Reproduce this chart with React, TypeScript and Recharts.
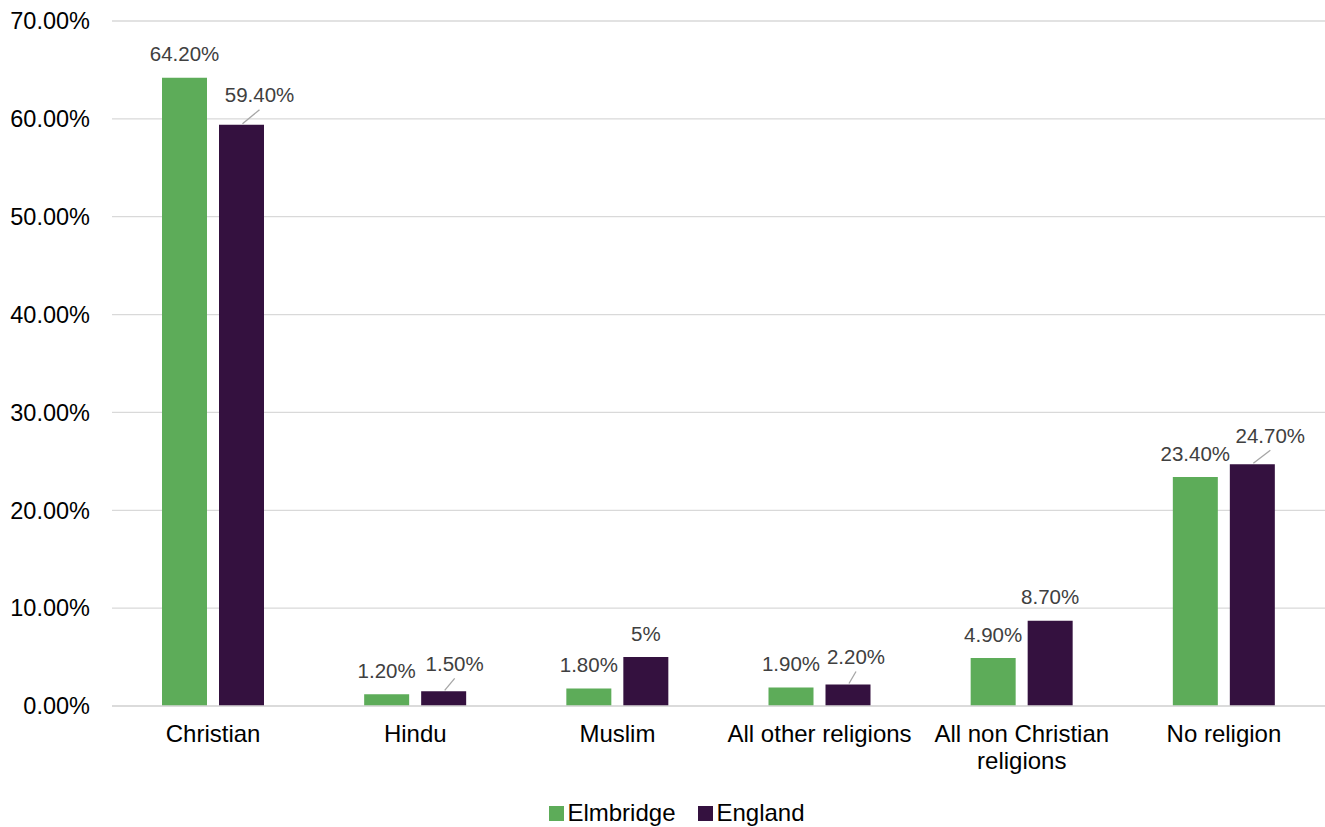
import { BarChart, Bar, XAxis, YAxis, CartesianGrid, Legend, LabelList } from 'recharts';

const categories = ['Christian', 'Hindu', 'Muslim', 'All other religions', 'All non Christian religions', 'No religion'];
const elmbridge = [64.2, 1.2, 1.8, 1.9, 4.9, 23.4];
const england = [59.4, 1.5, 5, 2.2, 8.7, 24.7];
const elmbridgeLabels = ['64.20%', '1.20%', '1.80%', '1.90%', '4.90%', '23.40%'];
const englandLabels = ['59.40%', '1.50%', '5%', '2.20%', '8.70%', '24.70%'];
const yTicks = [0, 10, 20, 30, 40, 50, 60, 70];

const data = categories.map((category, i) => ({
  category,
  elmbridge: elmbridge[i],
  england: england[i],
}));

const FONT = '"Liberation Sans", Arial, sans-serif';
const GREEN = '#5dac59';
const PURPLE = '#34113f';

// label nudges (dx, dy from bar top centre) -- excel moved a few labels and drew leader lines
const englandNudge = [[18, -30], [11, -28], [0, -24], [8, -28], [0, -24], [18, -29]];

const makeLabel = (labels: string[], nudges?: number[][]) => (props: any) => {
  const { x, y, width, index } = props;
  const cx = Number(x) + Number(width) / 2;
  const top = Number(y);
  const [dx, dy] = nudges ? nudges[index] : [0, -24];
  const leader = dx !== 0;
  return (
    <g>
      {leader && (
        <line x1={cx + 1} y1={top - 1} x2={cx + dx} y2={top + dy + 15} stroke="#a6a6a6" strokeWidth={1.3} />
      )}
      <text
        x={cx + dx}
        y={top + dy}
        textAnchor="middle"
        dominantBaseline="central"
        style={{ fontSize: 20.5, fill: '#404040', fontFamily: FONT }}
      >
        {labels[index]}
      </text>
    </g>
  );
};

// simple word wrap, long category names go on two lines
function wrap(label: string, maxChars = 19) {
  const lines: string[] = [];
  let cur = '';
  for (const w of label.split(' ')) {
    const next = cur ? cur + ' ' + w : w;
    if (next.length > maxChars && cur) {
      lines.push(cur);
      cur = w;
    } else {
      cur = next;
    }
  }
  if (cur) lines.push(cur);
  return lines;
}

function CategoryTick({ x, y, payload }: any) {
  const lines = wrap(String(payload.value));
  return (
    <text x={x} y={y} textAnchor="middle" style={{ fontSize: 24, fill: '#000', fontFamily: FONT }}>
      {lines.map((l, i) => (
        <tspan key={i} x={x} dy={i === 0 ? 17 : 27}>
          {l}
        </tspan>
      ))}
    </text>
  );
}

const series = [
  { name: 'Elmbridge', color: GREEN },
  { name: 'England', color: PURPLE },
];

const renderLegend = () => (
  <div
    style={{
      display: 'flex',
      justifyContent: 'center',
      alignItems: 'center',
      paddingTop: 20,
      paddingLeft: 29,
      fontSize: 24,
      lineHeight: '24px',
      fontFamily: FONT,
      color: '#000',
    }}
  >
    {series.map((s, i) => (
      <span key={s.name} style={{ display: 'flex', alignItems: 'center', marginLeft: i ? 23 : 0 }}>
        <span style={{ width: 15, height: 15, background: s.color, marginRight: 3, display: 'inline-block' }} />
        {s.name}
      </span>
    ))}
  </div>
);

export default function App() {
  return (
    <div style={{ position: 'absolute', left: 0, top: 0, width: 1325, height: 827, background: '#fff' }}>
      <BarChart
        width={1325}
        height={827}
        data={data}
        margin={{ top: 21, right: 0, left: 0, bottom: 0 }}
        barSize={45}
        barGap={12}
      >
        <CartesianGrid vertical={false} stroke="#d9d9d9" strokeWidth={1.3} />
        <XAxis
          dataKey="category"
          height={75}
          axisLine={{ stroke: '#d9d9d9', strokeWidth: 1.3 }}
          tickLine={false}
          tickSize={0}
          tickMargin={19}
          interval={0}
          tick={<CategoryTick />}
        />
        <YAxis
          width={112}
          domain={[0, 70]}
          ticks={yTicks}
          axisLine={false}
          tickLine={false}
          tickSize={0}
          tickMargin={22}
          tickFormatter={(v: number) => v.toFixed(2) + '%'}
          tick={{ fill: '#000', fontSize: 23.5, fontFamily: FONT }}
        />
        <Legend verticalAlign="bottom" height={46} content={renderLegend} />
        <Bar dataKey="elmbridge" name="Elmbridge" fill={GREEN} isAnimationActive={false}>
          <LabelList dataKey="elmbridge" content={makeLabel(elmbridgeLabels)} />
        </Bar>
        <Bar dataKey="england" name="England" fill={PURPLE} isAnimationActive={false}>
          <LabelList dataKey="england" content={makeLabel(englandLabels, englandNudge)} />
        </Bar>
      </BarChart>
    </div>
  );
}
